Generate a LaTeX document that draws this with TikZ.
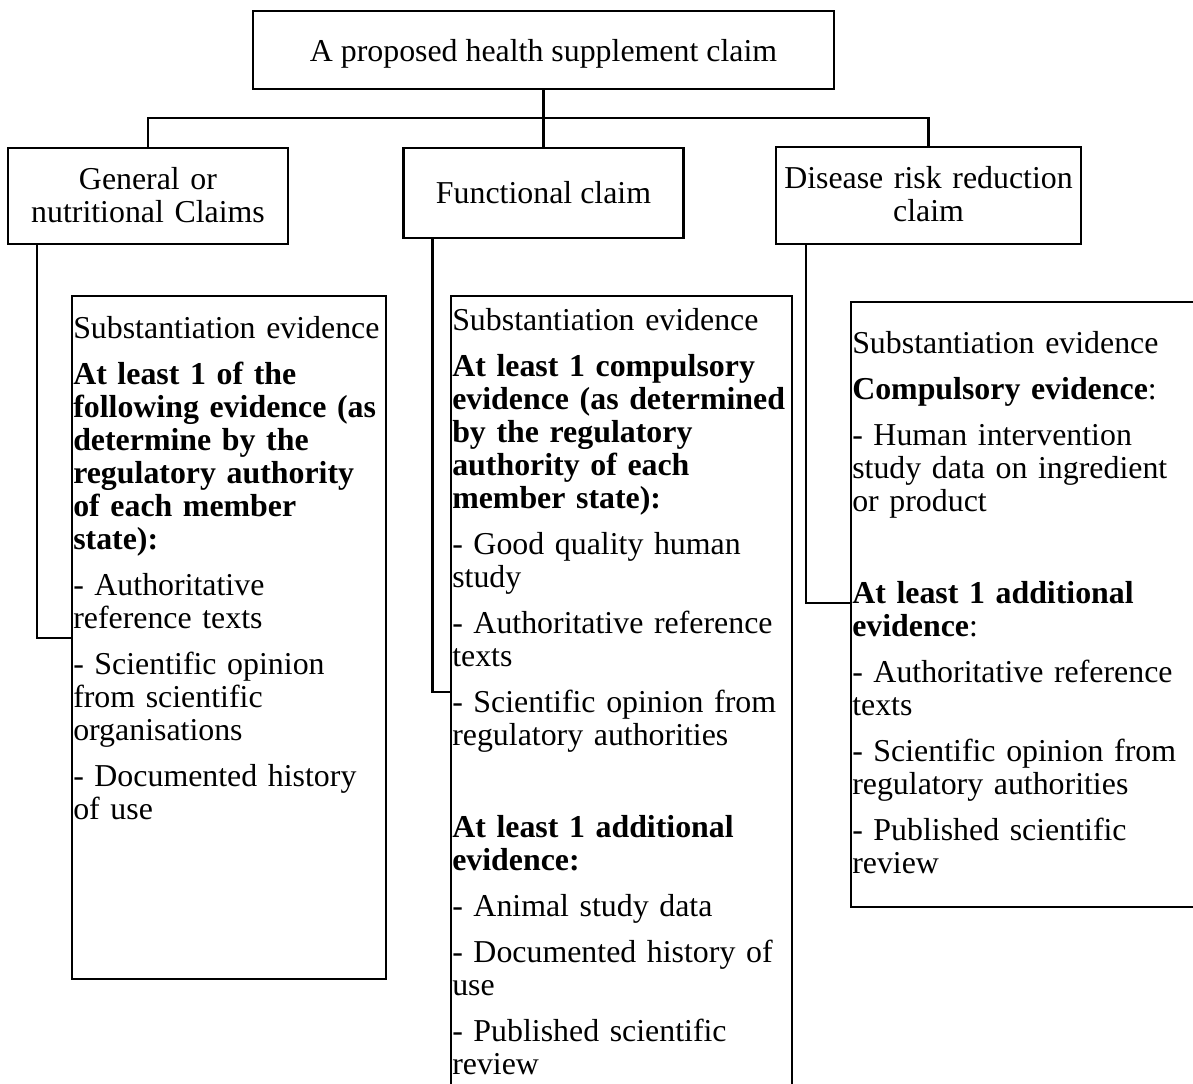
\documentclass[tikz,border=0pt]{standalone}
\usepackage{fontspec}
\setmainfont{Liberation Serif}
\usetikzlibrary{calc}

% one drawing unit = one pixel of the final image
\newlength\pxu
\setlength\pxu{0.75pt}

\tikzset{
  frame/.style={draw=black, line width=1.7pt, rectangle, inner sep=0pt, outer sep=0pt,
    anchor=north west},
  link/.style={draw=black, line width=1.7pt},
  headtxt/.style={inner sep=0pt, anchor=base, align=center,
    font=\fontsize{23.9}{24.75}\selectfont},
  bodytxt/.style={inner sep=0pt, anchor=base west, align=left, text width=400\pxu,
    font=\fontsize{23.9}{24.75}\selectfont},
}

\begin{document}
\begin{tikzpicture}[x=0.75pt,y=-0.75pt]
  \fill[white] (0,0) rectangle (1193,1083);
  \useasboundingbox (0,0) rectangle (1193,1083);
  \clip (0,0) rectangle (1193,1083);

  % top claim box
  \node[frame, minimum width=581\pxu, minimum height=78\pxu] (title) at (253,11) {};
  \node[headtxt] (titletxt) at (543.5,61) {A proposed health supplement claim};

  % the three claim categories
  \node[frame, minimum width=280\pxu, minimum height=96\pxu] (gen) at (8,148) {};
  \node[headtxt, text width=280\pxu] (gentxt) at (148,189) {General or\\nutritional Claims};

  \node[frame, minimum width=280\pxu, minimum height=90\pxu] (fun) at (403.5,148) {};
  \node[headtxt] (funtxt) at (543.5,203) {Functional claim};

  \node[frame, minimum width=305\pxu, minimum height=97\pxu] (dis) at (776,147) {};
  \node[headtxt, text width=305\pxu] (distxt) at (928.5,188) {Disease risk reduction\\claim};

  % evidence boxes
  \node[frame, minimum width=314\pxu, minimum height=683\pxu] (ev1) at (72,296) {};
  \node[frame, minimum width=341\pxu, minimum height=830\pxu] (ev2) at (451,296) {};
  \node[frame, minimum width=380\pxu, minimum height=605\pxu] (ev3) at (851,302) {};

  \node[bodytxt] (ev1txt) at (73,338) {\setlength\parskip{9.75pt}%
    Substantiation evidence\par
    \textbf{At least 1 of the\\following evidence (as\\determine by the\\regulatory authority\\of each member\\state):}\par
    - Authoritative\\reference texts\par
    - Scientific opinion\\from scientific\\organisations\par
    - Documented history\\of use};

  \node[bodytxt] (ev2txt) at (452,330) {\setlength\parskip{9.75pt}%
    Substantiation evidence\par
    \textbf{At least 1 compulsory\\evidence (as determined\\by the regulatory\\authority of each\\member state):}\par
    - Good quality human\\study\par
    - Authoritative reference\\texts\par
    - Scientific opinion from\\regulatory authorities\par
    \mbox{}\par
    \textbf{At least 1 additional\\evidence:}\par
    - Animal study data\par
    - Documented history of\\use\par
    - Published scientific\\review};

  \node[bodytxt] (ev3txt) at (852,353) {\setlength\parskip{9.75pt}%
    Substantiation evidence\par
    \textbf{Compulsory evidence}:\par
    - Human intervention\\study data on ingredient\\or product\par
    \mbox{}\par
    \textbf{At least 1 additional\\evidence}:\par
    - Authoritative reference\\texts\par
    - Scientific opinion from\\regulatory authorities\par
    - Published scientific\\review};

  % tree connectors
  \coordinate (bus) at (543.5,118);
  \draw[link] (title.south) -- (bus);
  \draw[link] (gen.north) |- (bus) -| (dis.north);
  \draw[link] (bus) -- (fun.north);

  % claim -> evidence elbows
  \draw[link] ($(gen.south west)+(28.7,0)$) |- ($(ev1.north west)+(0,342)$);
  \draw[link] ($(fun.south west)+(29,0)$) |- ($(ev2.north west)+(0,396)$);
  \draw[link] ($(dis.south west)+(30,0)$) |- ($(ev3.north west)+(0,301)$);
\end{tikzpicture}
\end{document}
